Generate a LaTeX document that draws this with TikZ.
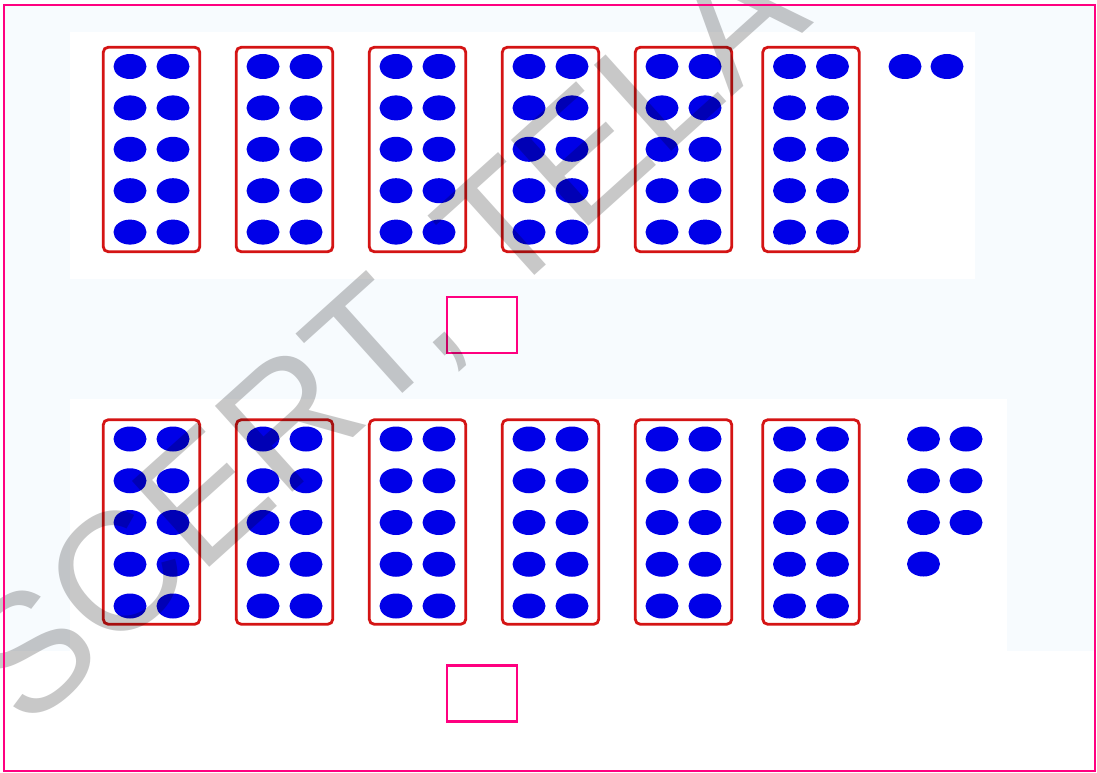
\documentclass[tikz,border=0pt]{standalone}
\usepackage{fontspec}
\newfontfamily\wmfont{Liberation Sans}
\definecolor{framered}{RGB}{212,20,20}
\definecolor{dotblue}{RGB}{0,0,232}
\definecolor{pinkc}{RGB}{255,0,128}
\definecolor{bgblue}{RGB}{247,251,254}
\definecolor{wmgray}{RGB}{200,200,200}
\begin{document}
\begin{tikzpicture}[x=1pt,y=-1pt,
  tenframe/.style={draw=framered, line width=2.8pt, rounded corners=5pt, fill=white,
    minimum width=96.5pt, minimum height=204.5pt, inner sep=0pt},
  dot/.style={fill=dotblue},
  answerbox/.style={draw=pinkc, line width=2.2pt, fill=white, minimum width=70pt, minimum height=56pt, inner sep=0pt},
  wm/.style={text=wmgray, inner sep=0pt, font=\wmfont\fontsize{168}{168}\selectfont},
]
\useasboundingbox (0,0) rectangle (1097,773);
% background tint
\fill[white] (0,0) rectangle (1097,773);
\fill[bgblue] (4,5) rectangle (1095,651);
\fill[white] (70,32) rectangle (975,279);
\fill[white] (70,399) rectangle (1007,651);
% top row
\foreach \cx [count=\i] in {151.5,284.5,417.5,550.5,683.5,811} {
  \node[tenframe] (t\i) at (\cx,149.5) {};
  \foreach \r in {0,...,4} {
    \fill[dot] (\cx-21.5,66.5+41.4*\r) ellipse [x radius=16.5, y radius=12.5];
    \fill[dot] (\cx+21.5,66.5+41.4*\r) ellipse [x radius=16.5, y radius=12.5];
  }
}
\fill[dot] (905,66.5) ellipse [x radius=16.5, y radius=12.5];
\fill[dot] (947,66.5) ellipse [x radius=16.5, y radius=12.5];
% bottom row
\foreach \cx [count=\i] in {151.5,284.5,417.5,550.5,683.5,811} {
  \node[tenframe] (b\i) at (\cx,522) {};
  \foreach \r in {0,...,4} {
    \fill[dot] (\cx-21.5,439+41.75*\r) ellipse [x radius=16.5, y radius=12.5];
    \fill[dot] (\cx+21.5,439+41.75*\r) ellipse [x radius=16.5, y radius=12.5];
  }
}
\foreach \r in {0,1,2} {
  \fill[dot] (923.5,439+41.75*\r) ellipse [x radius=16.5, y radius=12.5];
  \fill[dot] (966,439+41.75*\r) ellipse [x radius=16.5, y radius=12.5];
}
\fill[dot] (923.5,564) ellipse [x radius=16.5, y radius=12.5];
% answer boxes
\node[answerbox] (ans1) at (482,325) {};
\node[answerbox] (ans2) at (482,693.5) {};
% watermark
\begin{scope}[blend mode=multiply]
  \clip (0,0) rectangle (1097,773);
  \node[wm, rotate=42, anchor=base west] (wmark) at (26,733) {SCERT, TELA};
\end{scope}
% outer border
\draw[pinkc, line width=2.5pt] (4,5) rectangle (1095,771);
\end{tikzpicture}
\end{document}
